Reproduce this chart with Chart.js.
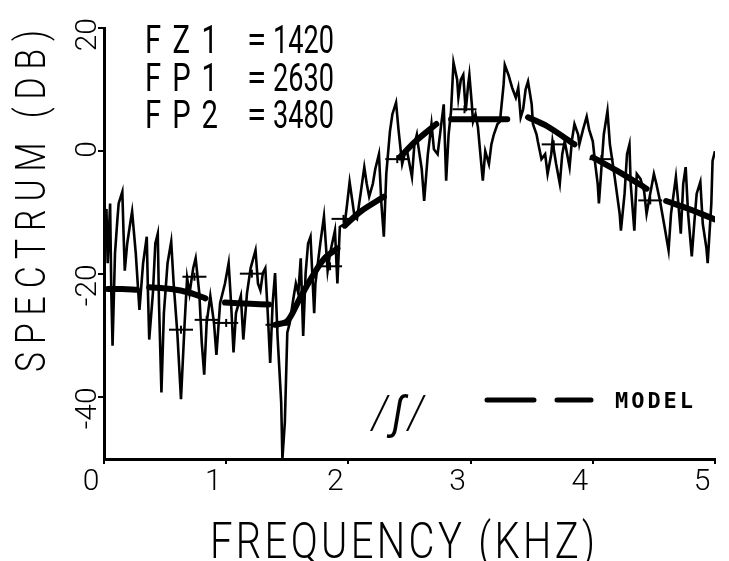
<!DOCTYPE html>
<html>
<head>
<meta charset="utf-8">
<script src="https://cdn.jsdelivr.net/npm/chart.js@4.4.1/dist/chart.umd.min.js"></script>
<style>
  html, body { margin: 0; padding: 0; background: #fff; }
  canvas { display: block; }
</style>
</head>
<body>
<canvas id="spectrumChart" width="729" height="561"></canvas>
<script>
// measured spectrum (kHz, dB)
const freqKHz = [0.00,0.02,0.03,0.05,0.06,0.07,0.09,0.11,0.12,0.15,
  0.16,0.17,0.19,0.22,0.23,0.26,0.29,0.32,0.35,0.36,
  0.37,0.40,0.42,0.44,0.45,0.47,0.49,0.52,0.55,0.57,
  0.60,0.63,0.66,0.68,0.70,0.73,0.75,0.78,0.80,0.82,
  0.84,0.87,0.90,0.92,0.95,0.99,1.02,1.04,1.06,1.08,
  1.12,1.14,1.17,1.20,1.24,1.26,1.28,1.30,1.32,1.34,
  1.36,1.38,1.40,1.42,1.45,1.46,1.48,1.50,1.52,1.55,
  1.57,1.59,1.61,1.63,1.65,1.67,1.69,1.72,1.73,1.75,
  1.77,1.80,1.83,1.85,1.89,1.91,1.93,1.97,1.99,2.01,
  2.05,2.07,2.10,2.13,2.15,2.17,2.20,2.22,2.25,2.27,
  2.29,2.31,2.34,2.36,2.39,2.41,2.44,2.46,2.48,2.50,
  2.52,2.54,2.56,2.57,2.60,2.62,2.65,2.68,2.70,2.73,
  2.76,2.78,2.80,2.82,2.84,2.86,2.89,2.90,2.92,2.94,
  2.96,2.98,2.99,3.01,3.02,3.04,3.06,3.08,3.10,3.12,
  3.15,3.17,3.19,3.22,3.24,3.27,3.28,3.31,3.34,3.37,
  3.39,3.41,3.43,3.45,3.47,3.50,3.51,3.54,3.55,3.58,
  3.61,3.63,3.66,3.67,3.70,3.73,3.75,3.77,3.79,3.81,
  3.83,3.85,3.88,3.89,3.92,3.95,3.97,4.00,4.02,4.04,
  4.05,4.07,4.09,4.12,4.14,4.16,4.17,4.19,4.22,4.23,
  4.26,4.28,4.30,4.31,4.34,4.36,4.39,4.42,4.44,4.47,
  4.50,4.52,4.55,4.59,4.62,4.64,4.68,4.70,4.72,4.74,
  4.76,4.78,4.81,4.83,4.85,4.88,4.90,4.93,4.94,4.97,
  4.98,5.00];
const spectrumDB = [-12.6,-9.4,-18.2,-8.5,-23.1,-31.6,-16.6,-11.0,-8.5,-6.6,
  -13.4,-19.4,-15.0,-11.0,-9.8,-16.6,-25.8,-18.2,-13.9,-23.1,
  -30.6,-23.1,-15.0,-13.4,-24.7,-39.2,-26.3,-18.2,-14.7,-21.5,
  -29.5,-40.3,-27.9,-20.6,-23.1,-19.0,-17.4,-23.1,-31.1,-36.3,
  -27.9,-23.5,-27.9,-33.1,-24.7,-21.5,-18.2,-24.7,-32.7,-26.3,
  -23.5,-30.6,-23.1,-19.0,-16.1,-21.5,-22.6,-19.8,-19.0,-26.3,
  -34.4,-24.7,-19.8,-30.0,-40.8,-50.0,-44.0,-29.5,-27.9,-23.9,
  -21.5,-23.1,-17.4,-30.0,-19.8,-15.0,-13.9,-26.3,-21.5,-18.2,
  -15.0,-10.6,-19.4,-16.6,-12.9,-21.5,-12.3,-11.8,-8.5,-5.0,
  -10.6,-11.0,-6.9,-2.6,-5.3,-7.4,-5.3,-2.9,-0.5,-8.5,
  -13.9,-3.7,3.2,6.0,7.9,3.5,-2.1,-0.5,0.0,-2.1,
  -4.2,1.1,2.7,1.1,-2.9,-8.1,-0.5,4.4,0.3,-0.5,
  4.4,7.6,-4.8,2.7,6.5,14.4,11.6,8.7,11.6,12.4,
  6.5,10.8,12.4,7.6,4.8,6.0,3.9,-0.5,-4.8,0.0,
  -2.1,1.1,2.7,4.4,4.8,10.8,14.0,12.4,10.3,8.7,
  10.3,5.5,6.8,10.0,11.3,7.6,4.4,2.7,1.6,-1.3,
  -0.5,-3.7,-0.5,1.6,-2.1,-5.3,-0.5,1.6,-0.5,-2.6,
  1.9,4.4,2.7,1.1,3.5,5.6,3.5,1.6,-2.1,-5.3,
  -8.5,-2.9,2.7,6.5,1.1,-1.6,-2.9,-5.8,-10.2,-12.9,
  -6.9,-0.5,1.1,-5.3,-12.9,-3.7,-4.5,-6.5,-10.2,-6.9,
  -3.7,-5.3,-8.1,-12.6,-16.1,-10.2,-4.2,-8.5,-13.4,-5.3,
  -2.6,-10.2,-17.1,-11.8,-6.9,-5.0,-11.8,-15.8,-18.2,-8.5,
  -1.6,0.0];

// model curve, null = gap between dashes
const modelKHz = [0.03,0.15,0.27,0.32, 0.37,0.55,0.70,0.83,0.91, 0.99,1.20,1.35,1.38,
  1.40,1.50,1.60,1.70,1.80,1.91,1.94, 1.97,2.10,2.29,2.35, 2.42,2.55,2.72,2.78,
  2.84,3.05,3.30,3.38, 3.47,3.63,3.85,3.92, 4.00,4.20,4.44,4.52, 4.60,4.80,5.00];
const modelDB = [-22.4,-22.4,-22.5,null, -22.1,-22.4,-23.0,-23.9,null, -24.6,-24.8,-24.9,null,
  -28.2,-27.6,-24.0,-20.5,-17.5,-15.8,null, -12.1,-9.8,-7.4,null, -1.0,1.6,4.4,null,
  5.2,5.2,5.2,null, 5.5,4.0,1.1,null, -1.0,-3.2,-6.1,null, -8.1,-9.5,-11.1];

// smoothed level marks
const crossKHz = [0.63,0.74,0.84,1.00,1.21,1.42,1.85,1.96,2.40,2.95,3.68,4.07,4.47];
const crossDB = [-29.0,-20.4,-27.4,-27.9,-19.9,-28.2,-18.7,-11.0,-1.3,6.8,1.1,-1.3,-8.0];

const xTicks = [0, 1, 2, 3, 4, 5];
const yTicks = [-40, -20, 0, 20];

const noteNames = ['F Z 1', 'F P 1', 'F P 2'];
const noteValues = ['1420', '2630', '3480'];

const FAMILY = 'Roboto, "Liberation Sans", sans-serif';

const pts = (xs, ys) => xs.map((x, i) => ({ x: x, y: ys[i] }));

// draw text squeezed by sx, then spread to the given width
function fitText(ctx, text, left, y, width, sx) {
    ctx.save();
    ctx.translate(left, y);
    ctx.scale(sx, 1);
    ctx.letterSpacing = '0px';
    ctx.textAlign = 'left';
    const w0 = ctx.measureText(text).width;
    let sp = text.length > 1 ? (width / sx - w0) / (text.length - 1) : 0;
    if (sp < 0) {
        ctx.scale((width / sx) / w0, 1);
        sp = 0;
    }
    ctx.letterSpacing = sp + 'px';
    ctx.fillText(text, 0, 0);
    ctx.restore();
}

// titles, notes and legend drawn straight on the canvas
const notesPlugin = {
    id: 'notes',
    afterDraw(chart) {
        const ctx = chart.ctx;
        ctx.save();
        ctx.fillStyle = '#000';
        ctx.strokeStyle = '#000';
        ctx.textBaseline = 'alphabetic';

        // axis titles
        ctx.font = '300 50px ' + FAMILY;
        fitText(ctx, 'FREQUENCY (KHZ)', 210, 558, 385, 0.8);
        ctx.save();
        ctx.translate(45, 372);
        ctx.rotate(-Math.PI / 2);
        ctx.font = '300 42px ' + FAMILY;
        fitText(ctx, 'SPECTRUM (DB)', 0, 0, 342, 0.8);
        ctx.restore();

        // formant notes
        ctx.font = '400 39px ' + FAMILY;
        noteNames.forEach((name, i) => {
            const y = 53 + i * 37.5;
            fitText(ctx, name, 145, y, 73, 0.75);
            fitText(ctx, '=', 247, y, 13, 0.9);
            fitText(ctx, noteValues[i], 273, y, 61, 0.7);
        });

        // phoneme
        ctx.font = 'italic 300 46px ' + FAMILY;
        fitText(ctx, '/ʃ/', 372, 428, 52, 0.9);

        // legend
        ctx.lineWidth = 5;
        ctx.lineCap = 'round';
        ctx.beginPath();
        ctx.moveTo(487, 400); ctx.lineTo(534, 400);
        ctx.moveTo(557, 400); ctx.lineTo(591, 400);
        ctx.stroke();
        ctx.font = 'bold 22px "DejaVu Sans Mono", monospace';
        fitText(ctx, 'MODEL', 615, 408, 78, 1);
        ctx.restore();
    }
};

const tickFont = { family: FAMILY, size: 30, weight: 300 };

new Chart(document.getElementById('spectrumChart'), {
    type: 'scatter',
    data: {
        datasets: [{
            label: 'Spectrum',
            data: pts(freqKHz, spectrumDB),
            showLine: true,
            borderColor: '#000',
            borderWidth: 2.6,
            pointRadius: 0,
            tension: 0
        }, {
            label: 'MODEL',
            data: pts(modelKHz, modelDB),
            showLine: true,
            borderColor: '#000',
            borderWidth: 6,
            borderCapStyle: 'round',
            pointRadius: 0,
            tension: 0.3,
            spanGaps: false
        }, {
            label: 'Level',
            data: pts(crossKHz, crossDB),
            pointStyle: 'line',
            pointRadius: 12,
            borderColor: '#000',
            borderWidth: 2,
            backgroundColor: '#000'
        }, {
            label: 'Level tick',
            data: pts(crossKHz, crossDB),
            pointStyle: 'line',
            rotation: 90,
            pointRadius: 4,
            borderColor: '#000',
            borderWidth: 2,
            backgroundColor: '#000'
        }]
    },
    options: {
        responsive: false,
        animation: false,
        events: [],
        layout: { padding: { top: 23, right: 7, left: 0, bottom: 0 } },
        plugins: {
            legend: { display: false },
            tooltip: { enabled: false }
        },
        scales: {
            x: {
                type: 'linear',
                min: 0,
                max: 5,
                afterBuildTicks: s => { s.ticks = xTicks.map(v => ({ value: v })); },
                afterFit: s => { s.height = 102; },
                grid: { drawOnChartArea: false, color: '#000', lineWidth: 2, tickLength: 5 },
                border: { color: '#000', width: 3 },
                ticks: { color: '#000', font: tickFont, padding: 0, labelOffset: -13, maxRotation: 0, autoSkip: false }
            },
            y: {
                type: 'linear',
                min: -50,
                max: 20,
                afterBuildTicks: s => { s.ticks = yTicks.map(v => ({ value: v })); },
                afterFit: s => { s.width = 104; },
                grid: { drawOnChartArea: false, color: '#000', lineWidth: 2, tickLength: 6 },
                border: { color: '#000', width: 3 },
                ticks: { color: '#000', font: tickFont, padding: 10, labelOffset: -10, minRotation: 90, maxRotation: 90, autoSkip: false }
            }
        }
    },
    plugins: [notesPlugin]
});
</script>
</body>
</html>
